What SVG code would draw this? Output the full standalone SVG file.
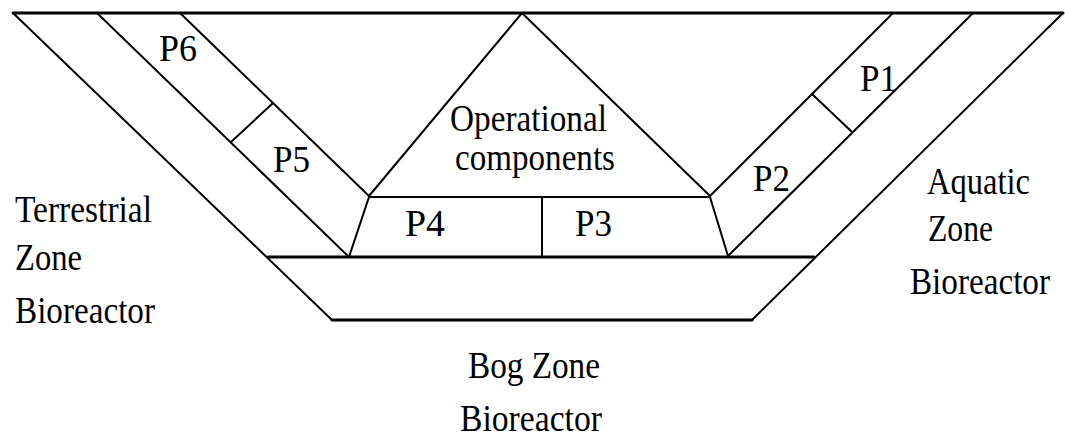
<svg xmlns="http://www.w3.org/2000/svg" width="1065" height="444" viewBox="0 0 1065 444">
<style>
.ln{stroke:#000;stroke-width:2;fill:none;stroke-linecap:round;stroke-linejoin:round}
.tx{font-family:"Liberation Serif","Times New Roman",serif;font-size:38px;fill:#000}
</style>
<rect width="1065" height="444" fill="#fff"/>
<g id="frame" class="ln">
<line x1="13" y1="13" x2="1063" y2="13" stroke-width="3"/>
</g>
<g id="terrestrial-zone" class="ln">
<line x1="13" y1="13" x2="332" y2="320"/>
<line x1="97" y1="13" x2="349" y2="257"/>
</g>
<g id="p6-p5" class="ln">
<line x1="180" y1="13" x2="369" y2="196"/>
<line x1="231" y1="142" x2="273" y2="103"/>
</g>
<g id="operational" class="ln">
<polyline points="369,196 522,13 710,196"/>
</g>
<g id="p4-p3" class="ln">
<line x1="369" y1="197" x2="710" y2="197"/>
<line x1="369" y1="197" x2="349" y2="257"/>
<line x1="710" y1="197" x2="728" y2="256"/>
<line x1="542" y1="197" x2="542" y2="257"/>
</g>
<g id="p1-p2" class="ln">
<line x1="893" y1="13" x2="710" y2="196"/>
<line x1="812" y1="94" x2="852" y2="132"/>
</g>
<g id="aquatic-zone" class="ln">
<line x1="973" y1="13" x2="728" y2="256"/>
<line x1="1063" y1="13" x2="752" y2="320"/>
</g>
<g id="bog-zone" class="ln">
<line x1="268" y1="257" x2="814" y2="257" stroke-width="3"/>
<line x1="332" y1="320" x2="752" y2="320" stroke-width="3"/>
</g>
<g id="labels" class="tx">
<text x="159" y="61" textLength="38" lengthAdjust="spacingAndGlyphs">P6</text>
<text x="273" y="172" textLength="37" lengthAdjust="spacingAndGlyphs">P5</text>
<text x="405" y="236" textLength="40" lengthAdjust="spacingAndGlyphs">P4</text>
<text x="575" y="236" textLength="37" lengthAdjust="spacingAndGlyphs">P3</text>
<text x="753" y="191" textLength="37" lengthAdjust="spacingAndGlyphs">P2</text>
<text x="860" y="91" textLength="37" lengthAdjust="spacingAndGlyphs">P1</text>
<text x="450" y="131" textLength="157" lengthAdjust="spacingAndGlyphs">Operational</text>
<text x="455" y="170" textLength="160" lengthAdjust="spacingAndGlyphs">components</text>
<text x="15" y="222" textLength="137" lengthAdjust="spacingAndGlyphs">Terrestrial</text>
<text x="15" y="270" textLength="67" lengthAdjust="spacingAndGlyphs">Zone</text>
<text x="15" y="323" textLength="140" lengthAdjust="spacingAndGlyphs">Bioreactor</text>
<text x="927" y="194" textLength="103" lengthAdjust="spacingAndGlyphs">Aquatic</text>
<text x="928" y="241" textLength="65" lengthAdjust="spacingAndGlyphs">Zone</text>
<text x="910" y="294" font-size="33" textLength="140" lengthAdjust="spacingAndGlyphs" transform="translate(910 294) scale(1 1.15) translate(-910 -294)">Bioreactor</text>
<text x="468" y="378" textLength="132" lengthAdjust="spacingAndGlyphs">Bog Zone</text>
<text x="460" y="431" textLength="142" lengthAdjust="spacingAndGlyphs">Bioreactor</text>
</g>
</svg>
